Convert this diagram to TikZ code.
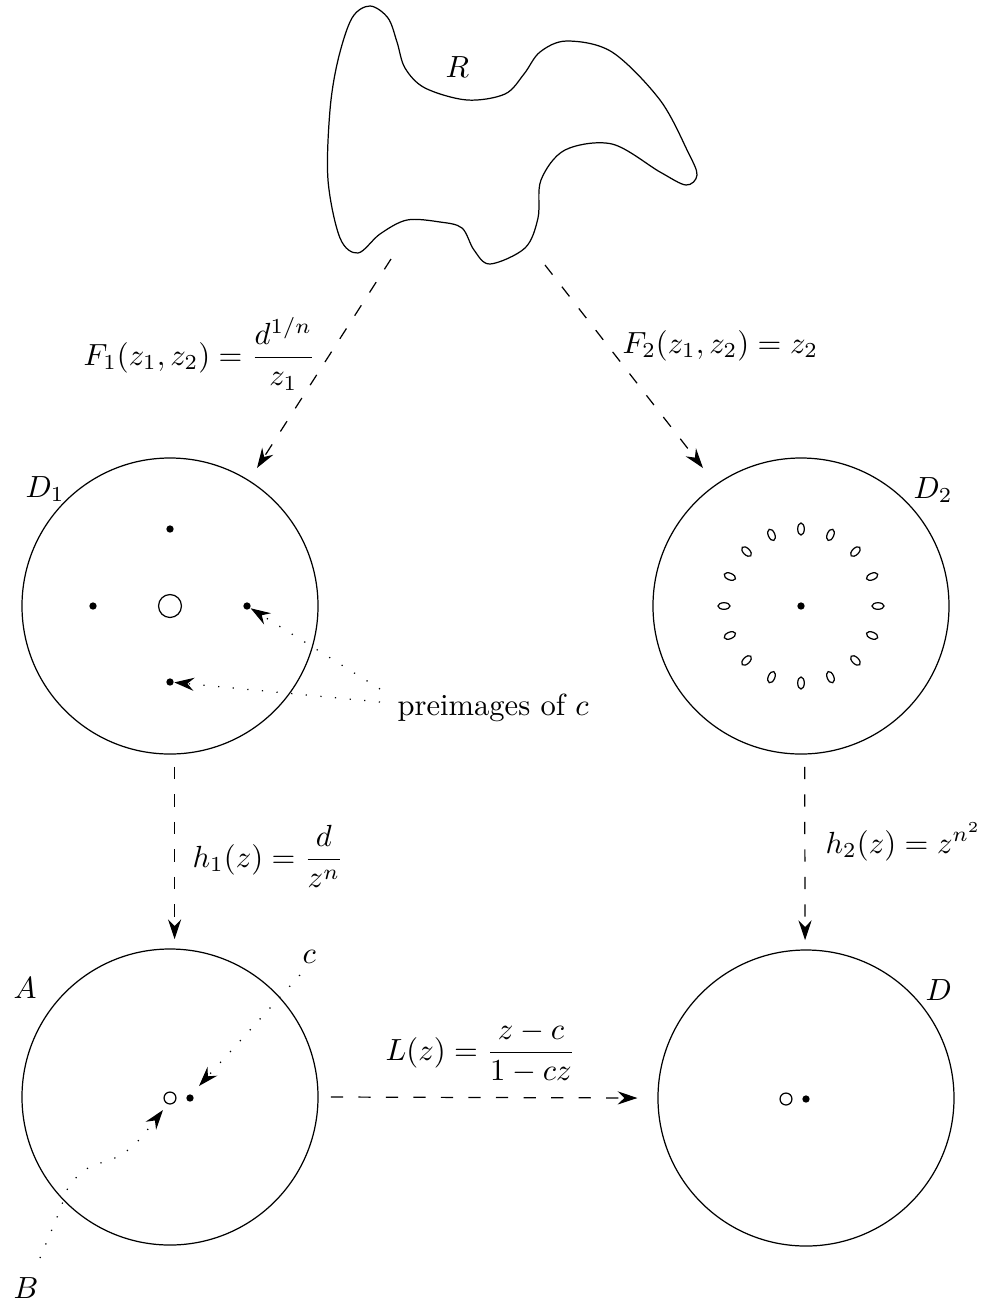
\documentclass[tikz,border=0pt]{standalone}
\usetikzlibrary{arrows.meta}
\begin{document}
\begin{tikzpicture}[x=0.327pt,y=-0.327pt,
  tip/.style={-{Stealth[length=6.5pt,width=4.3pt,inset=2.2pt]}},
  darrow/.style={tip,dash pattern=on 4pt off 5pt},
  dotarrow/.style={tip,dash pattern=on 0.4pt off 4.4pt},
  disc/.style={circle,draw,minimum size=96.8pt,inner sep=0pt},
  dot/.style={circle,fill,inner sep=0pt,minimum size=2.4pt},
  hole/.style={circle,draw,inner sep=0pt,minimum size=3.9pt},
  lab/.style={anchor=base west,inner sep=0pt}]
\useasboundingbox (0,0) rectangle (983,1307);

% region R
\draw plot[smooth cycle,tension=0.55] coordinates {
 (370,6) (388,18) (397,42) (405,68) (425,88) (467,100) (505,94) (524,74)
 (540,52) (567,41) (612,52) (660,100) (688,152) (697,175) (686,185)
 (660,172) (612,144) (565,150) (541,180) (538,218) (525,248) (490,264)
 (474,250) (462,228) (440,222) (407,220) (380,234) (358,253) (340,238)
 (328,180) (330,110) (338,60) (352,18)};
\node[lab] (R) at (445,77) {$R$};

% discs
\node[disc] (D1) at (170,606) {};
\node[disc] (D2) at (801,606) {};
\node[disc] (A) at (170,1097) {};
\node[disc] (D) at (806,1098) {};

\node[lab] (D1l) at (25,497) {$D_1$};
\node[lab] (D2l) at (913,498) {$D_2$};
\node[lab] (Al) at (13,998) {$A$};
\node[lab] (Dl) at (925,1000) {$D$};
\node[lab] (Bl) at (13,1298) {$B$};
\node[lab] (cl) at (302,963) {$c$};

% D1 contents
\node[hole,minimum size=7.5pt] (o1) at (170,606) {};
\node[dot] (p1) at (170,529) {};
\node[dot] (p2) at (93,606) {};
\node[dot] (p3) at (247,606) {};
\node[dot] (p4) at (170,682) {};

\node[lab] (pre) at (397,715) {preimages of $c$};
\coordinate (s1) at (380,689);
\coordinate (s2) at (380,702);
\draw[dotarrow] (s1) -- (p3);
\draw[dotarrow] (s2) -- (p4);

% D2 contents
\node[dot] (q0) at (801,606) {};
\begin{scope}[shift={(801,606)}]
  \foreach \a in {0,22.5,...,337.5}
    \draw[rotate=\a] (77,0) ellipse[x radius=6,y radius=3.3];
\end{scope}

% A contents
\node[hole] (oA) at (170,1098) {};
\node[dot] (pA) at (190,1098) {};
\coordinate (cs) at (300,975);
\coordinate (ct) at (199,1086);
\draw[dotarrow] (cs) -- (ct);
\coordinate (bs) at (40,1258);
\coordinate (bt) at (163,1110);
\draw[dotarrow] plot[smooth,tension=0.5] coordinates {(bs) (60,1210) (69,1186) (88,1168) (117,1157) (137,1142) (bt)};

% D contents
\node[hole] (oD) at (786,1099) {};
\node[dot] (pD) at (806,1099) {};

% maps
\coordinate (r1) at (391,259);
\coordinate (t1) at (257,468);
\coordinate (r2) at (545,265);
\coordinate (t2) at (703,468);
\draw[darrow] (r1) -- (t1);
\draw[darrow] (r2) -- (t2);
\draw[darrow] ([xshift=1.5pt,yshift=-4pt]D1.south) -- ([xshift=1.5pt,yshift=3pt]A.north);
\draw[darrow] ([xshift=1.2pt,yshift=-4pt]D2.south) -- ([xshift=-0.3pt,yshift=3pt]D.north);
\draw[darrow] ([xshift=4pt]A.east) -- ([xshift=-6.5pt]D.west);

\node[lab] (F1) at (83,365) {$F_1(z_1,z_2)=\displaystyle\frac{d^{1/n}}{z_1}$};
\node[lab] (F2) at (622,353) {$F_2(z_1,z_2)=z_2$};
\node[lab] (h1) at (192,867) {$h_1(z)=\displaystyle\frac{d}{z^n}$};
\node[lab] (h2) at (825,853) {$h_2(z)=z^{n^2}$};
\node[lab] (L) at (385,1060) {$L(z)=\displaystyle\frac{z-c}{1-cz}$};
\end{tikzpicture}
\end{document}
